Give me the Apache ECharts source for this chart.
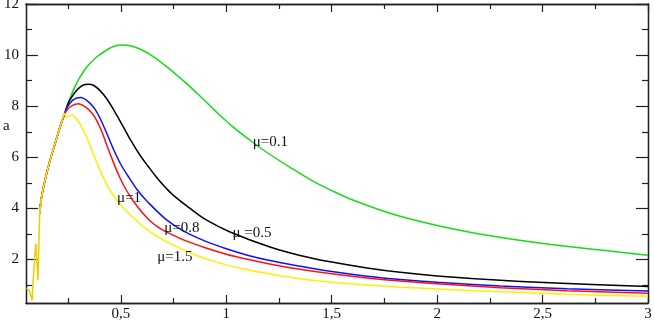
<!DOCTYPE html>
<html>
<head>
<meta charset="utf-8">
<script src="https://cdn.jsdelivr.net/npm/echarts@6/dist/echarts.min.js"></script>
<style>
html, body { margin: 0; padding: 0; background: #fff; }
#chart { width: 654px; height: 327px; }
</style>
</head>
<body>
<div id="chart"></div>
<script>
// noisy start at small omega (all curves on top of each other)
const omegaNoise = [0.052, 0.066, 0.079, 0.084, 0.092, 0.097, 0.103, 0.107, 0.112, 0.115, 0.123]
const aNoise     = [0.86, 0.8, 0.4, 1.19, 2.24, 2.63, 1.71, 1.19, 3.02, 3.8, 4.4]

// shared smooth climb
const omegaClimb = [0.115, 0.123, 0.14, 0.163, 0.19, 0.218, 0.234]
const aClimb     = [3.8, 4.4, 5.1, 5.85, 6.6, 7.35, 7.72]

// mu = 0.1 (green)
const omegaMu01 = [0.242, 0.25, 0.274, 0.3, 0.321, 0.345, 0.368, 0.4, 0.45, 0.495, 0.55, 0.6, 0.65, 0.717, 0.8, 0.875, 0.95, 1.033, 1.128, 1.2, 1.3, 1.4, 1.5, 1.6, 1.8, 2, 2.2, 2.5, 2.8, 3]
const aMu01     = [7.92, 8.12, 8.62, 9.05, 9.33, 9.6, 9.8, 10.02, 10.28, 10.4, 10.36, 10.2, 9.96, 9.55, 8.97, 8.4, 7.8, 7.18, 6.57, 6.15, 5.62, 5.12, 4.7, 4.33, 3.75, 3.33, 3.0, 2.63, 2.35, 2.17]

// mu = 0.5 (black)
const omegaMu05 = [0.242, 0.25, 0.274, 0.297, 0.32, 0.345, 0.37, 0.4, 0.432, 0.47, 0.511, 0.55, 0.59, 0.63, 0.669, 0.708, 0.748, 0.828, 0.907, 1.018, 1.207, 1.35, 1.5, 1.667, 1.825, 2, 2.3, 2.617, 3]
const aMu05     = [7.92, 8.12, 8.45, 8.68, 8.82, 8.86, 8.82, 8.62, 8.3, 7.8, 7.2, 6.62, 6.09, 5.64, 5.22, 4.85, 4.52, 4.0, 3.54, 3.08, 2.49, 2.16, 1.9, 1.67, 1.5, 1.36, 1.19, 1.06, 0.95]

// mu = 0.8 (blue)
const omegaMu08 = [0.242, 0.274, 0.309, 0.353, 0.38, 0.4, 0.43, 0.463, 0.5, 0.543, 0.58, 0.622, 0.717, 0.8, 0.9, 1, 1.1, 1.207, 1.35, 1.5, 1.667, 1.825, 2, 2.3, 2.617, 3]
const aMu08     = [7.92, 8.25, 8.34, 8.12, 7.85, 7.55, 7.0, 6.35, 5.72, 5.15, 4.7, 4.3, 3.55, 3.1, 2.72, 2.42, 2.17, 1.96, 1.74, 1.53, 1.35, 1.22, 1.11, 0.97, 0.86, 0.77]

// mu = 1 (red)
const omegaMu1 = [0.26, 0.297, 0.33, 0.36, 0.385, 0.41, 0.432, 0.46, 0.49, 0.52, 0.558, 0.6, 0.638, 0.68, 0.717, 0.8, 0.9, 1, 1.1, 1.2, 1.35, 1.5, 1.667, 1.825, 2, 2.3, 2.617, 3]
const aMu1     = [7.98, 8.1, 7.98, 7.75, 7.45, 7.0, 6.5, 5.9, 5.3, 4.8, 4.3, 3.85, 3.52, 3.25, 3.08, 2.76, 2.46, 2.21, 2.01, 1.84, 1.62, 1.44, 1.28, 1.16, 1.05, 0.9, 0.78, 0.68]

// mu = 1.5 (yellow)
const omegaMu15 = [0.24, 0.266, 0.295, 0.321, 0.345, 0.368, 0.4, 0.416, 0.44, 0.47, 0.495, 0.54, 0.59, 0.65, 0.717, 0.796, 0.875, 0.954, 1.081, 1.2, 1.35, 1.5, 1.667, 1.825, 2, 2.3, 2.617, 3]
const aMu15     = [7.58, 7.65, 7.45, 7.07, 6.65, 6.16, 5.52, 5.22, 4.82, 4.45, 4.18, 3.78, 3.4, 3.02, 2.7, 2.38, 2.11, 1.9, 1.63, 1.45, 1.25, 1.11, 1.0, 0.92, 0.85, 0.74, 0.64, 0.56]

// axis ticks
const xMajor = [0.5, 1, 1.5, 2, 2.5, 3]
const xMinor = [0.25, 0.75, 1.25, 1.75, 2.25, 2.75]
const yMajor = [2, 4, 6, 8, 10, 12]
const yMinor = [1, 3, 5, 7, 9, 11]

const FONT = 'Liberation Serif'
const X_MIN = 0.05, X_MAX = 3, Y_MIN = 0.3, Y_MAX = 12

function pairs(xs, ys) {
  return xs.map((x, i) => [x, ys[i]])
}

// yellow curve leaves the shared climb a bit earlier than the others
function curve(xs, ys) {
  const climb = pairs(omegaClimb, aClimb).filter(p => p[0] < xs[0])
  return climb.concat(pairs(xs, ys))
}

function xAx(position, ticks, len, withLabel) {
  return {
    type: 'value', position, min: X_MIN, max: X_MAX,
    axisLine: { show: true, onZero: false, lineStyle: { color: '#222', width: 1.3 } },
    axisTick: { show: true, inside: true, length: len, customValues: ticks, lineStyle: { color: '#222', width: 1.2 } },
    axisLabel: withLabel ? {
      show: true, customValues: ticks, margin: 4, color: '#111',
      fontFamily: FONT, fontSize: 15,
      formatter: v => String(v).replace('.', ',')
    } : { show: false },
    splitLine: { show: false }
  }
}

function yAx(position, ticks, len, withLabel) {
  return {
    type: 'value', position, min: Y_MIN, max: Y_MAX,
    axisLine: { show: true, onZero: false, lineStyle: { color: '#222', width: 1.3 } },
    axisTick: { show: true, inside: true, length: len, customValues: ticks, lineStyle: { color: '#222', width: 1.2 } },
    axisLabel: withLabel ? {
      show: true, customValues: ticks, margin: 7, color: '#111',
      fontFamily: FONT, fontSize: 15
    } : { show: false },
    splitLine: { show: false }
  }
}

function lineSeries(name, data, color, tag) {
  return {
    name, type: 'line', data, xAxisIndex: 0, yAxisIndex: 0,
    showSymbol: false, smooth: 0.35,
    lineStyle: { color, width: 1.5 },
    markPoint: {
      symbol: 'circle', symbolSize: 0, silent: true,
      data: [{ coord: tag.at, value: 0 }],
      label: {
        show: true, position: 'right', distance: 0, formatter: tag.text,
        color: '#111', fontFamily: FONT, fontSize: 15
      }
    }
  }
}

const chart = echarts.init(document.getElementById('chart'))
chart.setOption({
  animation: false,
  backgroundColor: '#fff',
  grid: { left: 26, right: 6, top: 4, bottom: 24, containLabel: false, outerBoundsMode: 'none' },
  xAxis: [
    Object.assign(xAx('bottom', xMajor, 8, true), { name: 'Ω', nameLocation: 'middle', nameGap: 12,
      nameTextStyle: { fontFamily: FONT, fontSize: 15, color: '#111' } }),
    xAx('bottom', xMinor, 5, false),
    xAx('top', xMajor, 8, false),
    xAx('top', xMinor, 5, false)
  ],
  yAxis: [
    yAx('left', yMajor, 12, true),
    yAx('left', yMinor, 6, false),
    yAx('right', yMajor, 12, false),
    yAx('right', yMinor, 6, false)
  ],
  graphic: [{
    type: 'text', left: 3, top: 119,
    style: { text: 'a', fontFamily: FONT, fontSize: 15, fill: '#111' }
  }],
  series: [
    lineSeries('mu=0.1', curve(omegaMu01, aMu01), '#16dd16', { text: 'μ=0.1', at: [1.125, 6.61] }),
    lineSeries('mu=0.5', curve(omegaMu05, aMu05), '#000000', { text: 'μ =0.5', at: [1.029, 3.04] }),
    lineSeries('mu=0.8', curve(omegaMu08, aMu08), '#1010ff', { text: 'μ=0.8', at: [0.706, 3.25] }),
    lineSeries('mu=1', curve(omegaMu1, aMu1), '#ff1010', { text: 'μ=1', at: [0.482, 4.39] }),
    lineSeries('mu=1.5', curve(omegaMu15, aMu15), '#ffee00', { text: 'μ=1.5', at: [0.672, 2.1] }),
    {
      name: 'noise', type: 'line', data: pairs(omegaNoise, aNoise), xAxisIndex: 0, yAxisIndex: 0,
      showSymbol: false, smooth: false, lineStyle: { color: '#e8d000', width: 1.5 }
    }
  ]
})
</script>
</body>
</html>
